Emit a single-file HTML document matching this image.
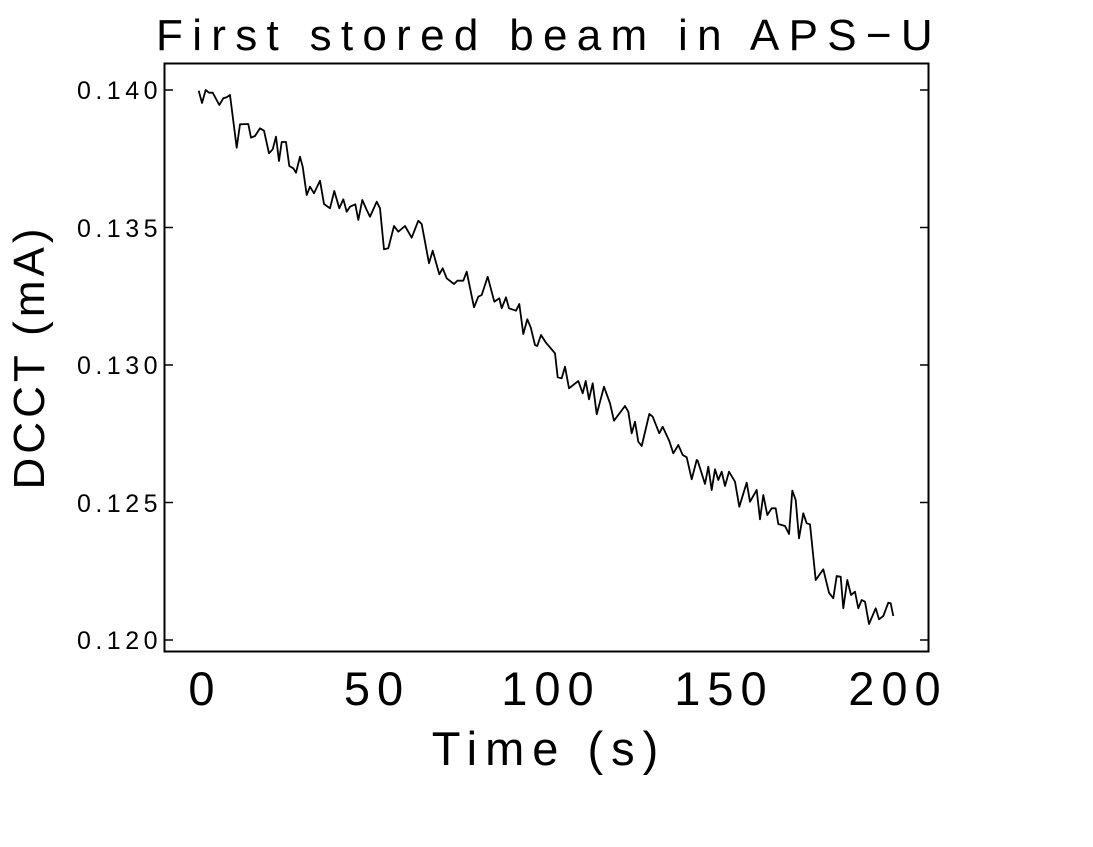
<!DOCTYPE html>
<html><head><meta charset="utf-8"><style>
html,body{margin:0;padding:0;background:#fff;}
svg text{font-family:"Liberation Sans",sans-serif;fill:#000;}
</style></head><body>
<svg width="1093" height="842" viewBox="0 0 1093 842" xmlns="http://www.w3.org/2000/svg">
<rect x="0" y="0" width="1093" height="842" fill="#fff"/>
<text x="549" y="50" font-size="44" text-anchor="middle" letter-spacing="9.3" font-weight="300">First stored beam in APS−U</text>
<rect x="164.5" y="63.5" width="764" height="588" fill="none" stroke="#000" stroke-width="2"/>
<g stroke="#000" stroke-width="1.5">
<line x1="165" y1="90" x2="173" y2="90"/><line x1="920" y1="90" x2="928" y2="90"/>
<line x1="165" y1="227.5" x2="173" y2="227.5"/><line x1="920" y1="227.5" x2="928" y2="227.5"/>
<line x1="165" y1="365" x2="173" y2="365"/><line x1="920" y1="365" x2="928" y2="365"/>
<line x1="165" y1="502.5" x2="173" y2="502.5"/><line x1="920" y1="502.5" x2="928" y2="502.5"/>
<line x1="165" y1="640" x2="173" y2="640"/><line x1="920" y1="640" x2="928" y2="640"/>
</g>
<g font-size="25" text-anchor="end" letter-spacing="4.5">
<text x="162" y="99">0.140</text>
<text x="162" y="237">0.135</text>
<text x="162" y="374">0.130</text>
<text x="162" y="512">0.125</text>
<text x="162" y="649">0.120</text>
</g>
<g font-size="47" text-anchor="middle" letter-spacing="7" font-weight="300">
<text x="205" y="705">0</text>
<text x="377" y="705">50</text>
<text x="551" y="705">100</text>
<text x="724" y="705">150</text>
<text x="898" y="705">200</text>
<text x="549" y="765" letter-spacing="8">Time (s)</text>
</g>
<text transform="translate(44,357) rotate(-90)" font-size="44" text-anchor="middle" letter-spacing="4" font-weight="300">DCCT (mA)</text>
<polyline fill="none" stroke="#000" stroke-width="1.8" stroke-linejoin="round" points="
198.7,90.7 202,103 205.7,90 209,92.7 212.7,92.7 219.3,105 223.3,98.3 226.7,97.3 230,95 236.7,147.7 240,124.3 248.3,124 251,137.7 255,136 260,128.3 264,130.7 269,153.3 272.7,149.3 276,136.7 279,161 281.7,142 286,142 289.3,166 293.3,168.3 296,172.7 300,156.7 302.7,166.7 306.7,195 310,186.7 314,193.3 320,180.7 324,204 330,208.3 334.3,191 339.3,208.3 343.3,199.3 346.7,211.7 350,206.7 355.3,204.3 358.3,220 362.3,200 366.7,210 370,216.7 376.7,201.7 380,208.3 384,249.3 388.3,248.3 394,226 398.3,231.7 405,226 411.7,237.7 418.3,220.7 421.7,224 429,263.3 432.7,250.7 439.3,274.3 442.7,268.3 446.7,278.3 
454,284 457.3,280.7 463.3,280.7 466.7,271.7 474,307.3 478.3,296.7 481.7,295 487.7,276.7 494.3,301.7 499.3,298.3 501.7,308.3 506,297.3 509,308.3 516,310.7 519.3,304 523.3,334 527.3,319.3 530.7,327.3 535,345 537.3,346 541,335 546,342.7 555,353.3 557.7,377.3 561.7,378.3 565,366.7 569,388.3 578.3,381 582.7,393.3 585.7,381 589,399.3 592.7,383.3 596.7,414.3 604,386.7 610,403.3 614,420.7 625,406 628.3,411.7 631.7,433.3 635,421.7 638.3,441.7 641.7,446 649.3,414 652.7,416.7 659.3,433.3 662.7,426.7 669.3,441 673.3,453.3 678.3,445 682.7,455 686.7,457.3 691.7,479.3 696.7,460 
697.7,460.7 705,484 708.3,466.7 711.7,490 715,469.3 718.3,480 721.7,471.7 725,486 729,471.7 735,481.7 739.3,506.7 746.7,482.7 750,501.7 756.7,490 760,519.3 763.3,495 767.3,515 771.7,508.3 775.7,508.3 778.3,524 785,526 789,534 792.3,490.7 795.7,500 799,538.3 803.3,513.3 806.7,523.3 810,524.3 815.7,580 823.3,569.3 829,592.7 833.3,598.3 836.7,576 840.7,576.7 843.3,608.3 847.3,580 851,595 855,591.7 858.3,608.3 861.7,600 865,601.7 869,624 875.7,608.3 879,619.3 883.3,616 888.3,602.7 890.7,603.3 893.3,616"/>
</svg>
</body></html>
